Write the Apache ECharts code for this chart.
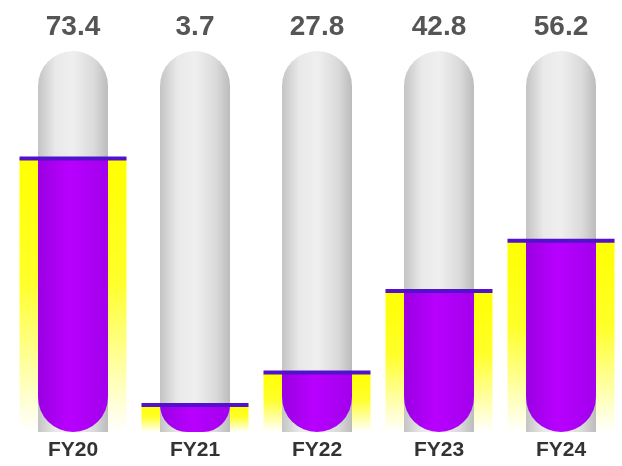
<!DOCTYPE html>
<html>
<head>
<meta charset="utf-8">
<script src="https://cdn.jsdelivr.net/npm/echarts@6/dist/echarts.min.js"></script>
<style>
  html, body { margin: 0; padding: 0; background: #ffffff; }
  #chart { width: 622px; height: 466px; }
</style>
</head>
<body>
<div id="chart"></div>
<script>
// Fiscal years shown along the bottom
var categories = ['FY20', 'FY21', 'FY22', 'FY23', 'FY24'];
// Figures printed above each tube
var headlineValues = [73.4, 3.7, 27.8, 42.8, 56.2];
// Fill level of each tube, as a share of the full tube (0-100)
var fillLevels = [71.8, 7.1, 15.6, 37.0, 50.2];
// Full height of the empty tube
var tubeCapacity = [100, 100, 100, 100, 100];

var chart = echarts.init(document.getElementById('chart'), null, { renderer: 'canvas' });

var tubeGradient = new echarts.graphic.LinearGradient(0, 0, 1, 0, [
  { offset: 0, color: '#c4c4c4' },
  { offset: 0.25, color: '#e9e9e9' },
  { offset: 0.5, color: '#efefef' },
  { offset: 0.8, color: '#dadada' },
  { offset: 1, color: '#bcbcbc' }
]);
var fillGradient = new echarts.graphic.LinearGradient(0, 0, 1, 0, [
  { offset: 0, color: '#9a00e2' },
  { offset: 0.45, color: '#b800ff' },
  { offset: 1, color: '#a200ec' }
]);
var glowGradient = new echarts.graphic.LinearGradient(0, 0, 0, 1, [
  { offset: 0, color: '#ffff00' },
  { offset: 0.45, color: '#ffff2a' },
  { offset: 1, color: '#ffffff' }
]);

chart.setOption({
  animation: false,
  backgroundColor: '#ffffff',
  grid: { left: 12, right: 0, top: 51, bottom: 34, containLabel: false },
  xAxis: [
    {
      type: 'category',
      data: categories,
      axisLine: { show: false },
      axisTick: { show: false },
      axisLabel: {
        margin: 8,
        fontSize: 21,
        fontWeight: 'bold',
        fontFamily: 'Liberation Sans, Arial, sans-serif',
        color: '#333333'
      }
    },
    {
      type: 'category',
      data: categories,
      show: false
    }
  ],
  yAxis: {
    type: 'value',
    min: 0,
    max: 100,
    show: false
  },
  series: [
    {
      name: 'glow',
      type: 'bar',
      xAxisIndex: 1,
      barWidth: 107,
      data: fillLevels,
      itemStyle: { color: glowGradient },
      z: 1
    },
    {
      name: 'tube',
      type: 'bar',
      xAxisIndex: 0,
      barWidth: 70,
      barGap: '-100%',
      data: tubeCapacity,
      itemStyle: { color: tubeGradient, borderRadius: [35, 35, 0, 0] },
      label: {
        show: true,
        position: 'top',
        distance: 10,
        fontSize: 28,
        fontWeight: 'bold',
        fontFamily: 'Liberation Sans, Arial, sans-serif',
        color: '#555555',
        formatter: function (p) { return headlineValues[p.dataIndex].toFixed(1); }
      },
      z: 2
    },
    {
      name: 'fill',
      type: 'bar',
      xAxisIndex: 0,
      barWidth: 70,
      barGap: '-100%',
      data: fillLevels,
      itemStyle: { color: fillGradient, borderRadius: [0, 0, 35, 35] },
      z: 3
    },
    {
      name: 'level',
      type: 'pictorialBar',
      xAxisIndex: 1,
      symbol: 'rect',
      symbolSize: [107, 4],
      symbolPosition: 'end',
      symbolOffset: [0, '-50%'],
      data: fillLevels,
      itemStyle: { color: '#5212cc' },
      z: 4
    }
  ]
});
</script>
</body>
</html>
